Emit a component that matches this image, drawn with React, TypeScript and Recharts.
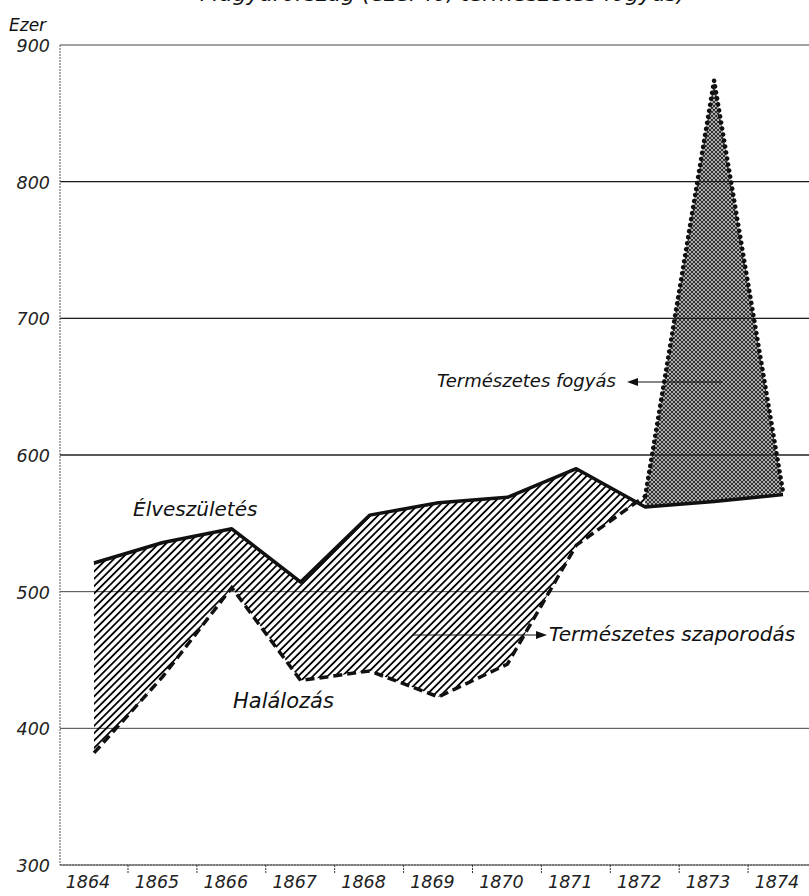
import React from "react";
import {
  ComposedChart,
  Area,
  Line,
  XAxis,
  YAxis,
  CartesianGrid,
  ReferenceLine,
} from "recharts";

const years = ["1864", "1865", "1866", "1867", "1868", "1869", "1870", "1871", "1872", "1873", "1874"];
// ezer fő
const births = [521, 536, 546, 507, 556, 565, 569, 590, 562, 566, 571];
const deaths = [382, 438, 503, 435, 442, 423, 447, 534, 570, 874, 573];
const yTicks = [300, 400, 500, 600, 700, 800, 900];

// 1872: the two curves have met, from here on deaths are on top
const turn = years.indexOf("1872");

const data = years.map((year, i) => ({
  year,
  births: births[i],
  deathsDash: i <= turn ? deaths[i] : null,
  deathsDot: i >= turn ? deaths[i] : null,
  gain: i <= turn ? [deaths[i], births[i]] : null,
  loss: i >= turn ? [births[i], deaths[i]] : null,
}));

const FONT = "'DejaVu Sans', 'Liberation Sans', sans-serif";
const HALF_BAND = 34;

function YearTick({ x, y, payload, index }: any) {
  return (
    <g>
      {index < years.length - 1 && (
        <line
          x1={x + HALF_BAND}
          x2={x + HALF_BAND}
          y1={y}
          y2={y + 9}
          stroke="#333"
          strokeDasharray="2 1"
        />
      )}
      <text
        x={x - 6}
        y={y + 23}
        textAnchor="middle"
        fontFamily={FONT}
        fontStyle="italic"
        fontSize={17.5}
        fill="#222"
      >
        {payload.value}
      </text>
    </g>
  );
}

function ValueTick({ x, y, payload }: any) {
  return (
    <text
      x={x - 10}
      y={y + 7}
      textAnchor="end"
      fontFamily={FONT}
      fontStyle="italic"
      fontSize={17.5}
      fill="#222"
    >
      {payload.value}
    </text>
  );
}

const label = {
  fontFamily: FONT,
  fontStyle: "italic" as const,
  fill: "#111",
};

export default function App() {
  return (
    <div
      style={{
        position: "absolute",
        left: 0,
        top: 0,
        width: 809,
        height: 896,
        overflow: "hidden",
        background: "#fff",
      }}
    >
      <svg width={0} height={0} style={{ position: "absolute" }}>
        <defs>
          <pattern
            id="hatch"
            width="5.2"
            height="5.2"
            patternUnits="userSpaceOnUse"
            patternTransform="rotate(45)"
          >
            <line x1="2.6" y1="0" x2="2.6" y2="5.2" stroke="#000" strokeWidth="1.8" />
          </pattern>
          <pattern id="stipple" width="4" height="4" patternUnits="userSpaceOnUse">
            <rect width="4" height="4" fill="#a0a0a0" fillOpacity={0.85} />
            <path d="M0,0 L4,4 M4,0 L0,4" stroke="#222" strokeWidth="0.9" />
          </pattern>
        </defs>
      </svg>

      <ComposedChart
        width={820}
        height={896}
        data={data}
        margin={{ top: 45, right: 3, left: 0, bottom: 0 }}
      >
        <CartesianGrid vertical={false} stroke="#444" />
        <XAxis
          dataKey="year"
          interval={0}
          padding={{ left: HALF_BAND, right: HALF_BAND }}
          height={31}
          tickSize={0}
          tickMargin={0}
          tickLine={false}
          axisLine={{ stroke: "#555", strokeDasharray: "2 1" }}
          tick={<YearTick />}
        />
        <YAxis
          domain={[300, 900]}
          ticks={yTicks}
          width={60}
          tickSize={0}
          tickMargin={0}
          tickLine={false}
          axisLine={{ stroke: "#555", strokeDasharray: "2 1" }}
          tick={<ValueTick />}
        />

        <Area
          type="linear"
          dataKey="gain"
          stroke="none"
          fill="url(#hatch)"
          fillOpacity={1}
          isAnimationActive={false}
        />
        <Area
          type="linear"
          dataKey="loss"
          stroke="none"
          fill="url(#stipple)"
          fillOpacity={1}
          isAnimationActive={false}
        />

        <ReferenceLine y={600} stroke="#111" />
        <ReferenceLine y={700} stroke="#111" />
        <ReferenceLine y={800} stroke="#111" />

        <Line
          type="linear"
          dataKey="births"
          stroke="#111"
          strokeWidth={3.5}
          strokeLinejoin="round"
          dot={false}
          isAnimationActive={false}
        />
        <Line
          type="linear"
          dataKey="deathsDash"
          stroke="#111"
          strokeWidth={3.5}
          strokeDasharray="9 5"
          dot={false}
          isAnimationActive={false}
        />
        <Line
          type="linear"
          dataKey="deathsDot"
          stroke="#111"
          strokeWidth={4.5}
          strokeDasharray="0.1 6"
          strokeLinecap="round"
          dot={false}
          isAnimationActive={false}
        />
      </ComposedChart>

      <svg
        width={809}
        height={896}
        style={{ position: "absolute", left: 0, top: 0, pointerEvents: "none" }}
      >
        <text {...label} x={200} y={1} fontSize={22}>
          Magyarország (ezer fő, természetes fogyás)
        </text>
        <text {...label} x={9} y={31} fontSize={17}>
          Ezer
        </text>

        <text {...label} x={133} y={516} fontSize={20}>
          Élveszületés
        </text>
        <text {...label} x={233} y={708} fontSize={21}>
          Halálozás
        </text>

        <line x1={413} y1={635} x2={538} y2={635} stroke="#111" strokeWidth={1.2} />
        <polygon points="547,635 536,631 536,639" fill="#111" />
        <text {...label} x={549} y={641} fontSize={20}>
          Természetes szaporodás
        </text>

        <text {...label} x={437} y={387} fontSize={18}>
          Természetes fogyás
        </text>
        <polygon points="627,382 638,378 638,386" fill="#111" />
        <line x1={636} y1={382} x2={722} y2={382} stroke="#111" strokeWidth={1.2} />
      </svg>
    </div>
  );
}
